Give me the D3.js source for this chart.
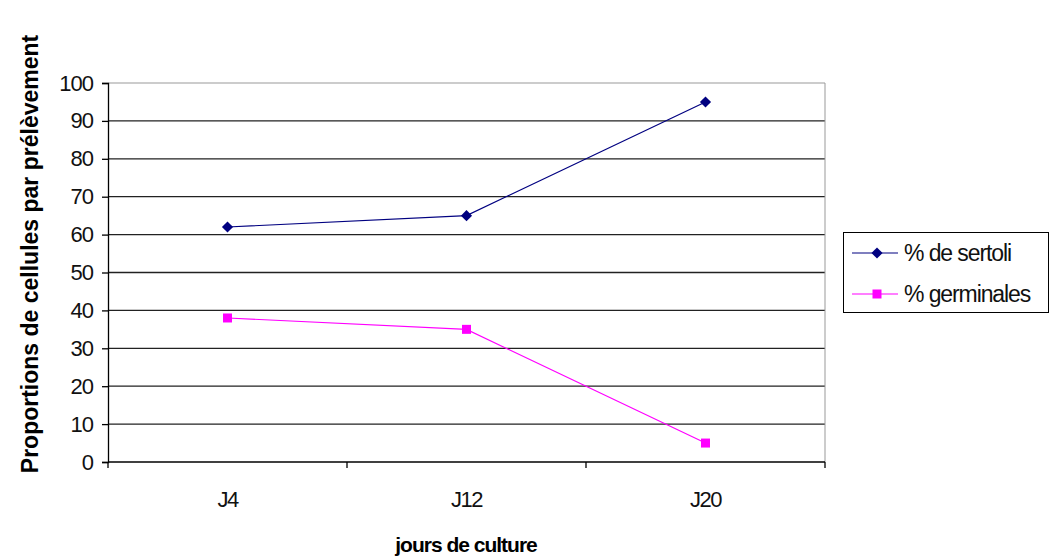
<!DOCTYPE html>
<html>
<head>
<meta charset="utf-8">
<script src="https://cdn.jsdelivr.net/npm/d3@7"></script>
<style>
  html, body { margin: 0; padding: 0; background: #fff; }
  svg text { font-family: "Liberation Sans", Arial, sans-serif; }
</style>
</head>
<body>
<svg id="chart" width="1050" height="558"></svg>
<script>
// Categories and series values
const days = ["J4", "J12", "J20"];
const sertoli = [62, 65, 95];
const germinales = [38, 35, 5];
const yTicks = [0, 10, 20, 30, 40, 50, 60, 70, 80, 90, 100];
const seriesNames = ["% de sertoli", "% germinales"];
const seriesColors = ["#000080", "#FF00FF"];

const svg = d3.select("#chart");
const plot = { left: 108, right: 825, top: 83, bottom: 462 };

const x = d3.scaleBand().domain(days).range([plot.left, plot.right]);
const y = d3.scaleLinear().domain([0, 100]).range([plot.bottom, plot.top]);

// Marker shapes: a square turned 45° for the diamond, a plain square otherwise
const markerPath = [
  d3.symbol().type(d3.symbolSquare).size(62)(),
  d3.symbol().type(d3.symbolSquare).size(81)()
];
const markerRot = [45, 0];

// Horizontal gridlines
svg.append("g").selectAll("line").data(yTicks.filter(d => d > 0)).join("line")
  .attr("x1", plot.left).attr("x2", plot.right)
  .attr("y1", d => y(d)).attr("y2", d => y(d))
  .attr("stroke", d => d === 100 ? "#999" : "#222")
  .attr("stroke-width", d => d === 100 ? 1 : 1.3);

// Right border of the plot area
svg.append("line")
  .attr("x1", plot.right).attr("x2", plot.right)
  .attr("y1", plot.top).attr("y2", plot.bottom)
  .attr("stroke", "#999").attr("stroke-width", 1);

// Y axis
const yAxis = svg.append("g")
  .attr("transform", `translate(${plot.left},0)`)
  .call(d3.axisLeft(y).tickValues(yTicks).tickSize(6).tickPadding(9));
yAxis.select(".domain").attr("stroke", "#000").attr("stroke-width", 1.3);
yAxis.selectAll(".tick line").attr("stroke", "#000").attr("stroke-width", 1.3);
yAxis.selectAll(".tick text")
  .attr("font-size", 22).attr("fill", "#111")
  .attr("letter-spacing", "-1px")
  .style("font-family", "'Liberation Sans', Arial, sans-serif");

// X axis with ticks on category boundaries
const xAxisG = svg.append("g").attr("transform", `translate(0,${plot.bottom})`);
xAxisG.append("line")
  .attr("x1", plot.left).attr("x2", plot.right)
  .attr("y1", 0).attr("y2", 0)
  .attr("stroke", "#000").attr("stroke-width", 1.3);
const bounds = days.map(d => x(d)).concat([x(days[days.length - 1]) + x.bandwidth()]);
xAxisG.selectAll("line.tk").data(bounds).join("line").attr("class", "tk")
  .attr("x1", d => d).attr("x2", d => d)
  .attr("y1", 0).attr("y2", 6)
  .attr("stroke", "#000").attr("stroke-width", 1.3);
xAxisG.selectAll("text").data(days).join("text")
  .attr("x", d => x(d) + x.bandwidth() / 2)
  .attr("y", 45)
  .attr("text-anchor", "middle")
  .attr("font-size", 22).attr("fill", "#111")
  .attr("letter-spacing", "-1.5px")
  .text(d => d);

// Axis titles
svg.append("text")
  .attr("x", 466).attr("y", 552)
  .attr("text-anchor", "middle")
  .attr("font-size", 21).attr("font-weight", "bold")
  .attr("letter-spacing", "-1px")
  .text("jours de culture");

svg.append("text")
  .attr("transform", "translate(38,254) rotate(-90)")
  .attr("text-anchor", "middle")
  .attr("font-size", 23).attr("font-weight", "bold")
  .text("Proportions de cellules par prélèvement");

// Series lines and markers
const cx = d => x(d) + x.bandwidth() / 2;
const allSeries = [sertoli, germinales];
const line = d3.line().x(d => cx(d.day)).y(d => y(d.v));

allSeries.forEach((vals, i) => {
  const pts = days.map((day, j) => ({ day, v: vals[j] }));
  svg.append("path").datum(pts)
    .attr("d", line)
    .attr("fill", "none")
    .attr("stroke", seriesColors[i])
    .attr("stroke-width", 1.2);
  svg.append("g").selectAll("path").data(pts).join("path")
    .attr("transform", d => `translate(${cx(d.day)},${y(d.v)}) rotate(${markerRot[i]})`)
    .attr("d", markerPath[i])
    .attr("fill", seriesColors[i]);
});

// Legend
const legend = svg.append("g");
legend.append("rect")
  .attr("x", 843.5).attr("y", 232.5).attr("width", 205).attr("height", 80)
  .attr("fill", "#fff").attr("stroke", "#000").attr("stroke-width", 1);
seriesNames.forEach((name, i) => {
  const ly = 253 + i * 41;
  legend.append("line")
    .attr("x1", 852).attr("x2", 898).attr("y1", ly).attr("y2", ly)
    .attr("stroke", seriesColors[i]).attr("stroke-width", 1.2);
  legend.append("path")
    .attr("transform", `translate(877,${ly}) rotate(${markerRot[i]})`)
    .attr("d", markerPath[i])
    .attr("fill", seriesColors[i]);
  legend.append("text")
    .attr("x", 904).attr("y", ly + 8)
    .attr("font-size", 23).attr("fill", "#111")
    .attr("letter-spacing", "-1.1px")
    .text(name);
});
</script>
</body>
</html>
